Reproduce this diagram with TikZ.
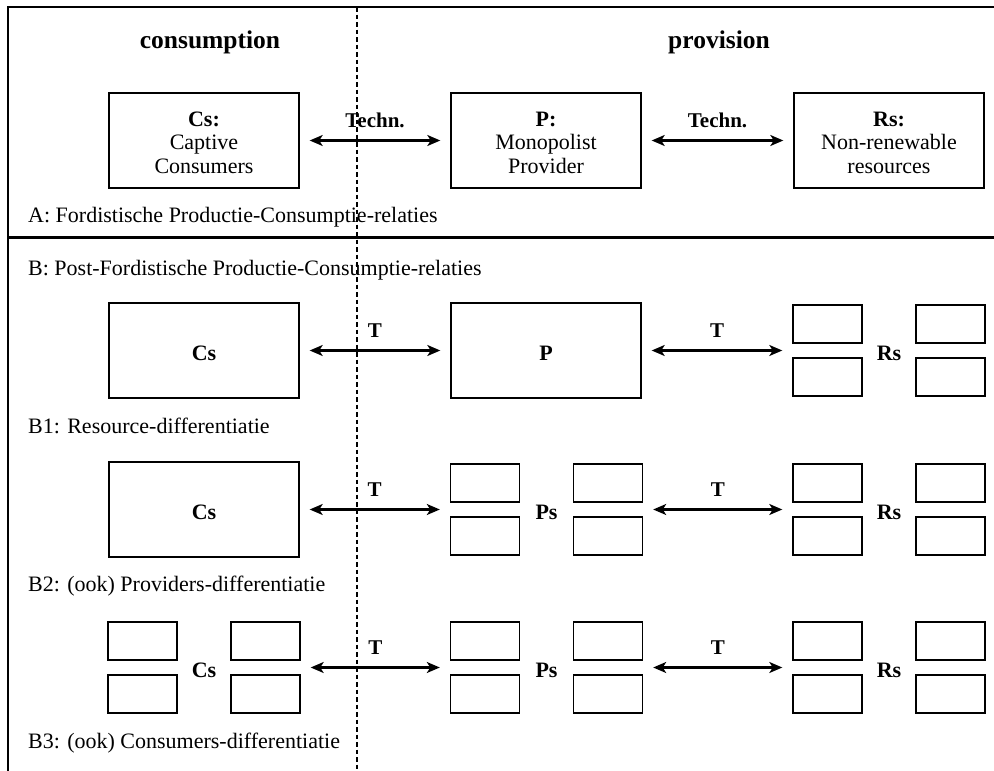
\documentclass[tikz,border=0pt]{standalone}
\usepackage{fontspec}
\setmainfont{Liberation Serif}
\usetikzlibrary{arrows.meta,fit}

\tikzset{
  bigbox/.style={draw, line width=1.4pt, minimum width=190pt, minimum height=95pt, inner sep=0pt},
  smallbox/.style={draw, line width=1.4pt, minimum width=69pt, minimum height=38pt, inner sep=0pt},
  grp/.style={inner sep=0pt, outer sep=0pt},
  conn/.style={{Stealth[length=13pt,width=11pt,inset=3.5pt]}-{Stealth[length=13pt,width=11pt,inset=3.5pt]}, line width=2.1pt, shorten <=10pt, shorten >=10pt},
  lbl/.style={font=\fontsize{22}{25}\selectfont\bfseries, inner sep=0pt, anchor=base},
  tlbl/.style={font=\fontsize{21}{24}\selectfont\bfseries, inner sep=0pt, anchor=base, pos=0.5, yshift=13.5pt},
  txt/.style={font=\fontsize{22}{25}\selectfont, inner sep=0pt, anchor=base},
  rowlbl/.style={font=\fontsize{22}{25}\selectfont, inner sep=0pt, anchor=base west},
  hdr/.style={font=\fontsize{25.5}{30}\selectfont\bfseries, inner sep=0pt, anchor=base},
  frameline/.style={line width=1.8pt},
  divline/.style={line width=3pt},
  sepline/.style={line width=2pt, dash pattern=on 4.5pt off 3pt}
}

% small group of four boxes: name, cx, cy, label
\newcommand{\smallgroup}[4]{%
  \node[smallbox] (#1-tl) at ({#2-61.5},{#3-26.5}) {};
  \node[smallbox] (#1-tr) at ({#2+61.5},{#3-26.5}) {};
  \node[smallbox] (#1-bl) at ({#2-61.5},{#3+26.5}) {};
  \node[smallbox] (#1-br) at ({#2+61.5},{#3+26.5}) {};
  \node[grp, fit=(#1-tl)(#1-br)] (#1) {};
  \node[lbl] (#1-lab) at (#2,{#3+9.5}) {#4};
}

\begin{document}
\begin{tikzpicture}[x=1pt,y=-1pt]
\useasboundingbox (0,0) rectangle (994,771);

% frame
\coordinate (ftl) at (8,7);
\coordinate (ftr) at (994,7);
\coordinate (fbl) at (8,771);
\coordinate (dl) at (8,237);
\coordinate (dr) at (994,237);
\coordinate (st) at (357,7);
\coordinate (sb) at (357,771);
\draw[frameline] (fbl) -- (ftl) -- (ftr);
\draw[divline] (dl) -- (dr);
\draw[sepline] (st) -- (sb);

% headers
\node[hdr] (hcons) at (210,48) {consumption};
\node[hdr] (hprov) at (719,48) {provision};

% Row A
\node[bigbox] (csA) at (204,140.5) {};
\node[bigbox] (pA) at (546,140.5) {};
\node[bigbox] (rsA) at (889,140.5) {};
\node[lbl] (csA1) at (204,126.5) {Cs:};
\node[txt] (csA2) at (204,149.5) {Captive};
\node[txt] (csA3) at (204,173) {Consumers};
\node[lbl] (pA1) at (546,126.5) {P:};
\node[txt] (pA2) at (546,149.5) {Monopolist};
\node[txt] (pA3) at (546,173) {Provider};
\node[lbl] (rsA1) at (889,126.5) {Rs:};
\node[txt] (rsA2) at (889,149.5) {Non-renewable};
\node[txt] (rsA3) at (889,173) {resources};
\draw[conn] (csA.east) -- (pA.west) node[tlbl] (tA1) {Techn.};
\draw[conn] (pA.east) -- (rsA.west) node[tlbl] (tA2) {Techn.};
\node[rowlbl] (labA) at (28,222) {A: Fordistische Productie-Consumptie-relaties};

% Row B header
\node[rowlbl] (labB) at (28,275) {B: Post-Fordistische Productie-Consumptie-relaties};

% Row B1
\node[bigbox] (csB1) at (204,350.5) {};
\node[lbl] (csB1l) at (204,360) {Cs};
\node[bigbox] (pB1) at (546,350.5) {};
\node[lbl] (pB1l) at (546,360) {P};
\smallgroup{rsB1}{889}{350.5}{Rs}
\draw[conn] (csB1.east) -- (pB1.west) node[tlbl] (tB11) {T};
\draw[conn] (pB1.east) -- (rsB1.west) node[tlbl] (tB12) {T};
\node[rowlbl] (labB1) at (28,433) {B1: Resource-differentiatie};

% Row B2
\node[bigbox] (csB2) at (204,509.5) {};
\node[lbl] (csB2l) at (204,519) {Cs};
\smallgroup{psB2}{546.5}{509.5}{Ps}
\smallgroup{rsB2}{889}{509.5}{Rs}
\draw[conn] (csB2.east) -- (psB2.west) node[tlbl] (tB21) {T};
\draw[conn] (psB2.east) -- (rsB2.west) node[tlbl] (tB22) {T};
\node[rowlbl] (labB2) at (28,591) {B2: (ook) Providers-differentiatie};

% Row B3
\smallgroup{csB3}{204}{667.5}{Cs}
\smallgroup{psB3}{546.5}{667.5}{Ps}
\smallgroup{rsB3}{889}{667.5}{Rs}
\draw[conn] (csB3.east) -- (psB3.west) node[tlbl] (tB31) {T};
\draw[conn] (psB3.east) -- (rsB3.west) node[tlbl] (tB32) {T};
\node[rowlbl] (labB3) at (28,748) {B3: (ook) Consumers-differentiatie};
\end{tikzpicture}
\end{document}
